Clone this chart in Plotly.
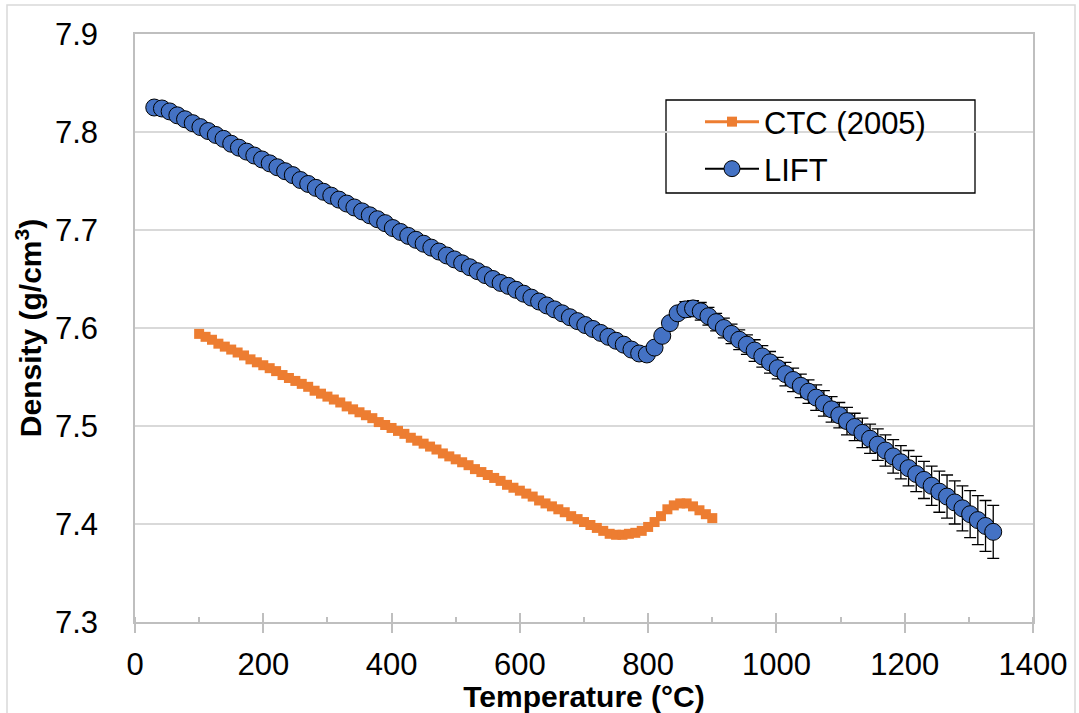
import plotly.graph_objects as go

# ---------------- data ----------------
ctc_temp = [100, 110, 120, 130, 140, 150, 160, 170, 180, 190,
            200, 210, 220, 230, 240, 250, 260, 270, 280, 290,
            300, 310, 320, 330, 340, 350, 360, 370, 380, 390,
            400, 410, 420, 430, 440, 450, 460, 470, 480, 490,
            500, 510, 520, 530, 540, 550, 560, 570, 580, 590,
            600, 610, 620, 630, 640, 650, 660, 670, 680, 690,
            700, 710, 720, 730, 740, 750, 760, 770, 780, 790,
            800, 810, 820, 830, 840, 850, 860, 870, 880, 890, 900]
ctc_density = [7.594, 7.591, 7.588, 7.584, 7.581, 7.578, 7.575, 7.572, 7.568, 7.565,
               7.562, 7.559, 7.556, 7.552, 7.549, 7.546, 7.543, 7.540, 7.536, 7.533,
               7.530, 7.527, 7.524, 7.520, 7.517, 7.514, 7.511, 7.508, 7.504, 7.501,
               7.498, 7.495, 7.492, 7.488, 7.485, 7.482, 7.479, 7.476, 7.472, 7.469,
               7.466, 7.463, 7.460, 7.456, 7.453, 7.450, 7.447, 7.444, 7.440, 7.437,
               7.434, 7.431, 7.428, 7.424, 7.421, 7.418, 7.415, 7.412, 7.408, 7.405,
               7.402, 7.399, 7.396, 7.393, 7.390, 7.389, 7.389, 7.390, 7.391, 7.393,
               7.397, 7.402, 7.408, 7.415, 7.419, 7.421, 7.421, 7.418, 7.414, 7.410, 7.406]

lift_temp = [30, 42, 54, 66, 78, 90, 102, 114, 126, 138,
             150, 162, 174, 186, 198, 210, 222, 234, 246, 258,
             270, 282, 294, 306, 318, 330, 342, 354, 366, 378,
             390, 402, 414, 426, 438, 450, 462, 474, 486, 498,
             510, 522, 534, 546, 558, 570, 582, 594, 606, 618,
             630, 642, 654, 666, 678, 690, 702, 714, 726, 738,
             750, 762, 774, 786, 798, 810, 822, 834, 846, 858,
             870, 882, 894, 906, 918, 930, 942, 954, 966, 978,
             990, 1002, 1014, 1026, 1038, 1050, 1062, 1074, 1086, 1098,
             1110, 1122, 1134, 1146, 1158, 1170, 1182, 1194, 1206, 1218,
             1230, 1242, 1254, 1266, 1278, 1290, 1302, 1314, 1326, 1338]
lift_density = [7.825, 7.824, 7.821, 7.817, 7.813, 7.809, 7.805, 7.801, 7.797, 7.793,
                7.788, 7.784, 7.780, 7.776, 7.772, 7.768, 7.764, 7.760, 7.756, 7.751,
                7.747, 7.743, 7.739, 7.735, 7.731, 7.727, 7.723, 7.719, 7.715, 7.711,
                7.707, 7.702, 7.698, 7.694, 7.690, 7.686, 7.682, 7.678, 7.674, 7.670,
                7.666, 7.662, 7.658, 7.654, 7.650, 7.646, 7.643, 7.639, 7.635, 7.631,
                7.627, 7.623, 7.619, 7.615, 7.611, 7.607, 7.603, 7.599, 7.595, 7.591,
                7.587, 7.583, 7.578, 7.574, 7.573, 7.580, 7.592, 7.605, 7.615, 7.619,
                7.620, 7.617, 7.612, 7.606, 7.600, 7.594, 7.588, 7.583, 7.577, 7.571,
                7.565, 7.559, 7.553, 7.547, 7.541, 7.535, 7.529, 7.523, 7.517, 7.511,
                7.505, 7.499, 7.493, 7.487, 7.481, 7.475, 7.469, 7.463, 7.457, 7.451,
                7.445, 7.439, 7.433, 7.428, 7.422, 7.416, 7.410, 7.404, 7.398, 7.392]
lift_error = [0.004, 0.004, 0.004, 0.004, 0.004, 0.004, 0.004, 0.004, 0.004, 0.004,
              0.004, 0.004, 0.004, 0.004, 0.004, 0.004, 0.004, 0.004, 0.004, 0.004,
              0.004, 0.004, 0.004, 0.004, 0.004, 0.004, 0.004, 0.004, 0.004, 0.004,
              0.004, 0.004, 0.004, 0.004, 0.004, 0.004, 0.004, 0.004, 0.004, 0.004,
              0.004, 0.004, 0.004, 0.004, 0.004, 0.004, 0.004, 0.004, 0.004, 0.004,
              0.004, 0.004, 0.004, 0.004, 0.004, 0.004, 0.004, 0.004, 0.004, 0.004,
              0.004, 0.004, 0.004, 0.004, 0.004, 0.004, 0.004, 0.004, 0.004, 0.008,
              0.008, 0.009, 0.009, 0.009, 0.010, 0.010, 0.010, 0.010, 0.011, 0.011,
              0.011, 0.011, 0.012, 0.012, 0.012, 0.012, 0.013, 0.013, 0.013, 0.013,
              0.014, 0.014, 0.015, 0.015, 0.016, 0.016, 0.017, 0.017, 0.018, 0.018,
              0.019, 0.020, 0.021, 0.022, 0.022, 0.023, 0.024, 0.025, 0.026, 0.027]

x_range = [0, 1400]
y_range = [7.3, 7.9]

FONT = "Liberation Sans, Arial, sans-serif"
AXIS_GRAY = "#bfbfbf"
GRID_GRAY = "#d9d9d9"

fig = go.Figure()

fig.add_trace(go.Scatter(
    x=ctc_temp, y=ctc_density, name="CTC (2005)", mode="lines+markers",
    line=dict(color="#ED7D31", width=3),
    marker=dict(symbol="square", size=10, color="#ED7D31", line=dict(width=0)),
    legend="legend",
))

fig.add_trace(go.Scatter(
    x=lift_temp, y=lift_density, name="LIFT", mode="lines+markers",
    line=dict(color="black", width=2),
    marker=dict(symbol="circle", size=17, color="#4472C4",
                line=dict(color="black", width=1)),
    error_y=dict(type="data", array=lift_error, visible=True,
                 color="black", thickness=1.3, width=6),
    legend="legend2",
))

# helper trace for the inward half of the major x ticks
fig.add_trace(go.Scatter(x=[], y=[], xaxis="x2", yaxis="y",
                         showlegend=False, hoverinfo="skip"))

# plot-area geometry (paper fractions) for the legend box and chart border
L, R, T, B = 135, 1033, 34, 622
W, H = 1079, 713
pw, ph = R - L, B - T

def px_x(p):
    return (p - L) / pw

def px_y(p):
    return (B - p) / ph

fig.update_layout(
    width=W, height=H,
    margin=dict(l=L, r=W - R, t=T, b=H - B, autoexpand=False),
    paper_bgcolor="white", plot_bgcolor="white",
    font=dict(family=FONT, size=31, color="black"),
    showlegend=True,
    xaxis=dict(
        range=x_range, dtick=200, tick0=0,
        showline=True, mirror=True, linecolor=AXIS_GRAY, linewidth=1.5,
        showgrid=False, zeroline=False,
        ticks="outside", ticklen=9, tickcolor=AXIS_GRAY, tickwidth=1.5,
        minor=dict(ticks="inside", dtick=100, tick0=0, ticklen=5,
                   tickcolor=AXIS_GRAY, tickwidth=1.5, showgrid=False),
        tickfont=dict(size=31, color="black"),
        ticklabelstandoff=5,
        title=dict(text="<b>Temperature (°C)</b>", font=dict(size=30, color="black"),
                   standoff=0),
    ),
    xaxis2=dict(
        range=x_range, dtick=200, tick0=0, overlaying="x", anchor="y", side="bottom",
        showline=False, showgrid=False, zeroline=False, showticklabels=False,
        ticks="inside", ticklen=9, tickcolor=AXIS_GRAY, tickwidth=1.5,
    ),
    yaxis=dict(
        range=y_range, dtick=0.1, tick0=7.3, tickformat=".1f",
        showline=True, mirror=True, linecolor=AXIS_GRAY, linewidth=1.5,
        showgrid=True, gridcolor=GRID_GRAY, gridwidth=1.5, zeroline=False,
        ticks="", tickfont=dict(size=31, color="black"),
        ticklabelstandoff=29,
        title=dict(text="<b>Density (g/cm<sup>3</sup>)</b>", font=dict(size=30, color="black"),
                   standoff=4),
    ),
    legend=dict(
        x=px_x(700), y=px_y(122), xanchor="left", yanchor="middle",
        bgcolor="rgba(0,0,0,0)", borderwidth=0,
        font=dict(family=FONT, size=31, color="black"),
        itemwidth=54,
    ),
    legend2=dict(
        x=px_x(700), y=px_y(169), xanchor="left", yanchor="middle",
        bgcolor="rgba(0,0,0,0)", borderwidth=0,
        font=dict(family=FONT, size=31, color="black"),
        itemwidth=54,
    ),
    shapes=[
        # legend box
        dict(type="rect", xref="paper", yref="paper",
             x0=px_x(666), x1=px_x(975), y0=px_y(193), y1=px_y(100),
             line=dict(color="black", width=1.3), fillcolor="rgba(0,0,0,0)", layer="below"),
        # outer chart border
        dict(type="rect", xref="paper", yref="paper",
             x0=px_x(7), x1=px_x(1075), y0=px_y(716), y1=px_y(5),
             line=dict(color=GRID_GRAY, width=1.5), fillcolor="rgba(0,0,0,0)", layer="below"),
    ],
)

fig.write_html("out.html")
